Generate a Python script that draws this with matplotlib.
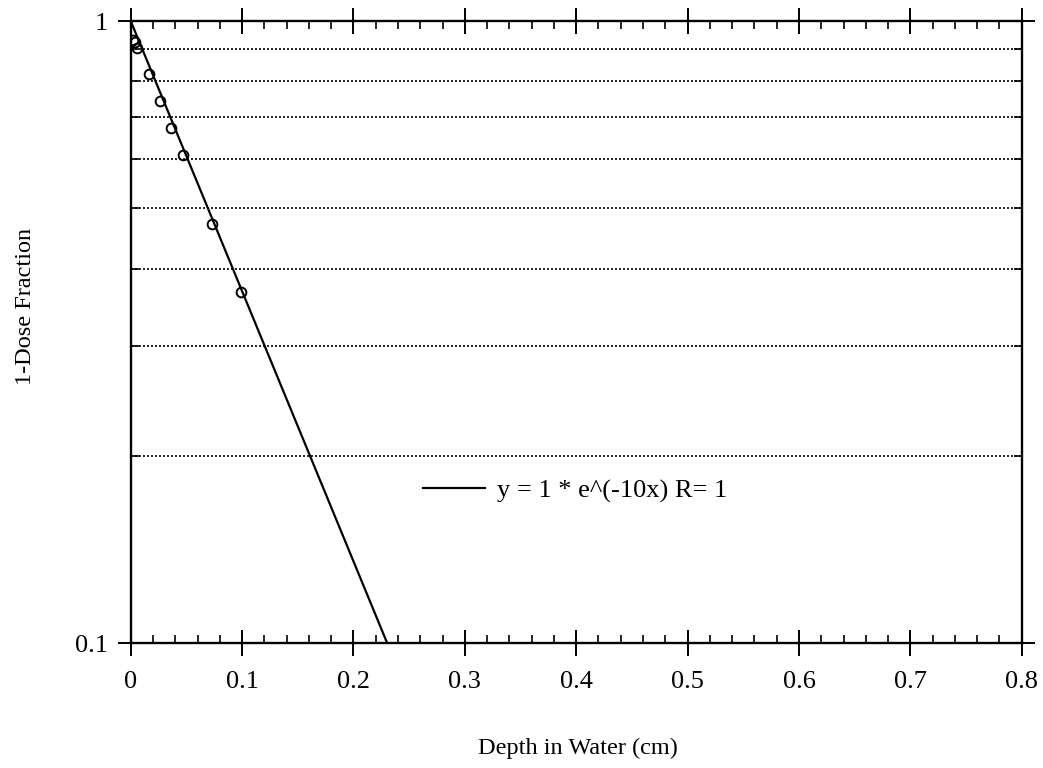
import numpy as np
import matplotlib.pyplot as plt
from matplotlib.ticker import FixedLocator, MultipleLocator, FixedFormatter, NullFormatter

# measured points
depth_cm = [0.002, 0.004, 0.006, 0.016, 0.026, 0.036, 0.047, 0.073, 0.099]
dose_frac = [0.932, 0.926, 0.906, 0.822, 0.744, 0.672, 0.608, 0.472, 0.367]

# fit y = a * exp(b x), drawn between its ends on the plot
fit_a = 1.0
fit_b = -10.0
fit_x = [0.0, 0.2303]

x_ticks = [0, 0.1, 0.2, 0.3, 0.4, 0.5, 0.6, 0.7, 0.8]
x_labels = ["0", "0.1", "0.2", "0.3", "0.4", "0.5", "0.6", "0.7", "0.8"]
y_ticks = [0.1, 1]
y_labels = ["0.1", "1"]
y_grid = [0.2, 0.3, 0.4, 0.5, 0.6, 0.7, 0.8, 0.9]

plt.rcParams.update({
    "font.family": "Liberation Serif",
    "font.size": 17,
})

W, H = 1043, 768
fig = plt.figure(figsize=(W / 100, H / 100), dpi=100)
ax = fig.add_axes([130.7 / W, 1 - 643 / H, 891 / W, 622 / H])

fx = np.array(fit_x)
ax.plot(fx, fit_a * np.exp(fit_b * fx), color="black", linewidth=1.6,
        label="y = 1 * e^(-10x) R= 1")
ax.plot(depth_cm, dose_frac, linestyle="none", marker="o", markersize=7,
        markerfacecolor="none", markeredgecolor="black", markeredgewidth=1.4)

for gy in y_grid:
    ax.axhline(gy, color="black", linestyle=(0, (1.2, 1.2)), linewidth=1.2, zorder=0)

ax.set_yscale("log")
ax.set_xlim(0, 0.8)
ax.set_ylim(0.1, 1)

ax.xaxis.set_major_locator(FixedLocator(x_ticks))
ax.xaxis.set_major_formatter(FixedFormatter(x_labels))
ax.xaxis.set_minor_locator(MultipleLocator(0.02))
ax.yaxis.set_major_locator(FixedLocator(y_ticks))
ax.yaxis.set_major_formatter(FixedFormatter(y_labels))
ax.yaxis.set_minor_locator(FixedLocator(y_grid))
ax.yaxis.set_minor_formatter(NullFormatter())

ax.tick_params(which="major", direction="inout", length=18.7, width=1.4,
               top=True, right=True, labelsize=19, colors="black")
ax.tick_params(axis="x", which="major", pad=11)
ax.tick_params(axis="y", which="major", pad=7)
ax.tick_params(which="minor", direction="in", length=5.5, width=1.2,
               top=True, right=True)
for s in ax.spines.values():
    s.set_linewidth(1.7)

ax.set_xlabel("Depth in Water (cm)", fontsize=17.5)
ax.xaxis.set_label_coords(0.502, -0.169)
ax.xaxis.label.set_va("center")
ax.set_ylabel("1-Dose Fraction", fontsize=17.5)
ax.yaxis.set_label_coords(-0.1186, 0.5418)
ax.yaxis.label.set_va("center")

ax.legend(loc="center left", bbox_to_anchor=(0.328, 0.2444), frameon=False,
          fontsize=19, handlelength=2.35, handletextpad=0.45,
          borderpad=0, borderaxespad=0)

fig.savefig("out.png", dpi=100)
